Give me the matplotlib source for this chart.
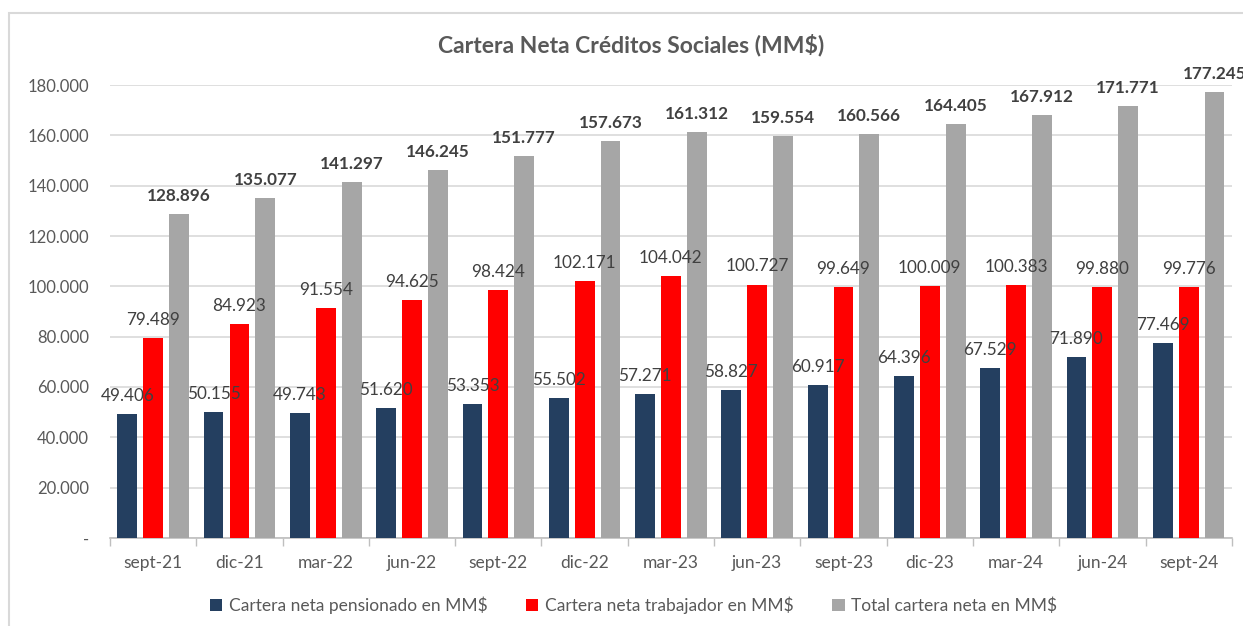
import numpy as np
import matplotlib
matplotlib.use("Agg")
import matplotlib.pyplot as plt
from matplotlib.patches import Rectangle

plt.rcParams['font.family'] = ['Lato', 'DejaVu Sans']

categories = ["sept-21", "dic-21", "mar-22", "jun-22", "sept-22", "dic-22", "mar-23",
              "jun-23", "sept-23", "dic-23", "mar-24", "jun-24", "sept-24"]
pensionado = [49406, 50155, 49743, 51620, 53353, 55502, 57271,
              58827, 60917, 64396, 67529, 71890, 77469]
trabajador = [79489, 84923, 91554, 94625, 98424, 102171, 104042,
              100727, 99649, 100009, 100383, 99880, 99776]
total = [128896, 135077, 141297, 146245, 151777, 157673, 161312,
         159554, 160566, 164405, 167912, 171771, 177245]
series_names = ["Cartera neta pensionado en MM$", "Cartera neta trabajador en MM$",
                "Total cartera neta en MM$"]
y_ticks = [0, 20000, 40000, 60000, 80000, 100000, 120000, 140000, 160000, 180000]


def fmt(v):
    return f"{v:,.0f}".replace(",", ".") if v else "-"


fig = plt.figure(figsize=(12.43, 6.26), dpi=100)
ax = fig.add_axes([0.0885, 0.1406, 0.9025, 0.7236])

# chart border
fig.patches.append(Rectangle((0.0072, -0.1), 1.2, 1.0790, transform=fig.transFigure,
                             fill=False, edgecolor="#d9d9d9", lw=1.5))

x = np.arange(len(categories))
w = 0.23
off = 0.30
colors = ["#243f60", "#ff0000", "#a6a6a6"]
txt = "#404040"

for vals, dx, c, name, bold in [(pensionado, -off, colors[0], series_names[0], False),
                                (trabajador, 0, colors[1], series_names[1], False),
                                (total, off, colors[2], series_names[2], True)]:
    ax.bar(x + dx, vals, width=w, color=c, label=name, zorder=3)
    for xi, v in zip(x + dx, vals):
        ax.text(xi, v + 4000, fmt(v), ha="center", va="bottom", fontsize=12.3,
                color=txt, fontweight="bold" if bold else "normal", clip_on=False, zorder=4)

ax.set_xlim(-0.5, len(categories) - 0.5)
ax.set_ylim(0, 180000)
ax.set_yticks(y_ticks)
ax.set_yticklabels([fmt(v) for v in y_ticks])
ax.set_xticks(x)
ax.set_xticklabels(categories)
ax.set_xticks(np.arange(len(categories) + 1) - 0.5, minor=True)
ax.tick_params(axis="x", which="major", length=0, pad=12, labelsize=12.5, labelcolor="#595959")
ax.tick_params(axis="x", which="minor", length=6, color="#bfbfbf", width=1)
ax.tick_params(axis="y", length=0, pad=15, labelsize=12, labelcolor="#595959")

ax.grid(axis="y", color="#d9d9d9", lw=1.2, zorder=0)
for s in ["top", "right", "left"]:
    ax.spines[s].set_visible(False)
ax.spines["bottom"].set_color("#bfbfbf")
ax.spines["bottom"].set_linewidth(1.2)

fig.text(0.508, 0.928, "Cartera Neta Créditos Sociales (MM$)", ha="center", va="center",
         fontsize=16.5, fontweight="bold", color="#595959")

fig.legend(loc="center", bbox_to_anchor=(0.51, 0.033), ncol=3, frameon=False,
           fontsize=12.5, labelcolor="#595959", handlelength=0.7, handleheight=0.7,
           handletextpad=0.4, columnspacing=2.2)

fig.savefig("out.png", dpi=100)
